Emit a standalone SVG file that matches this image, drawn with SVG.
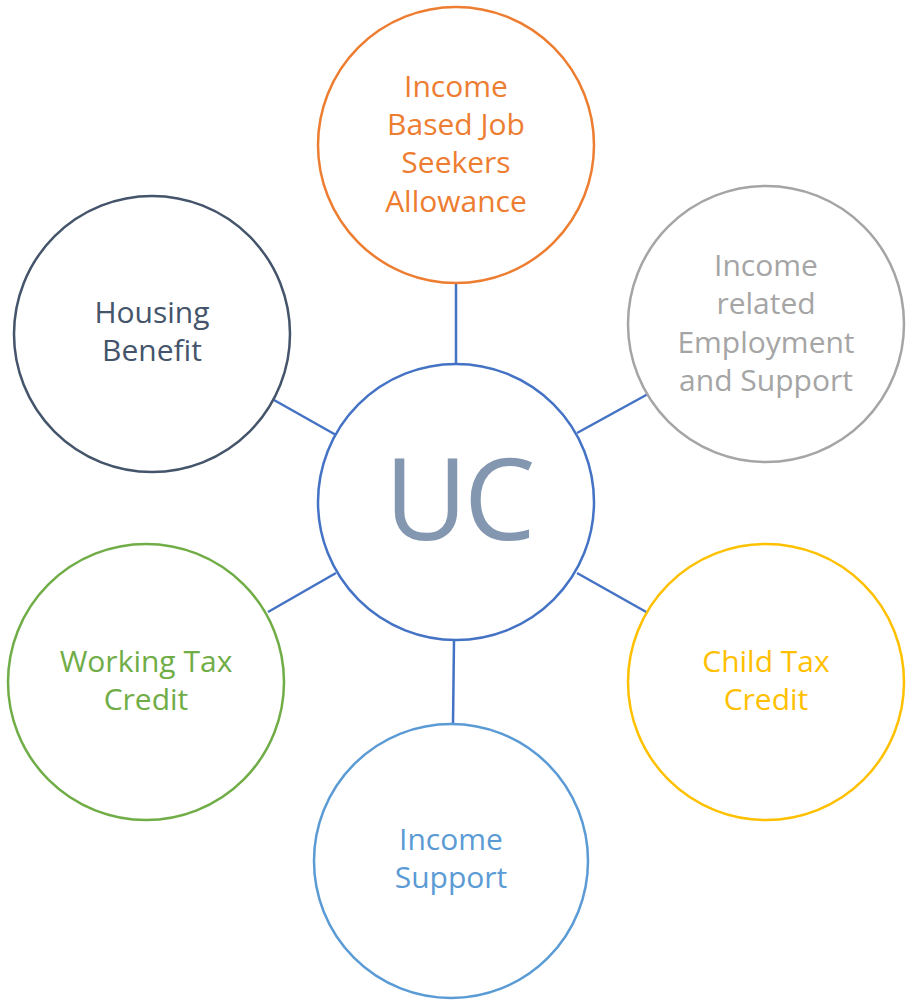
<svg xmlns="http://www.w3.org/2000/svg" width="911" height="1001" viewBox="0 0 911 1001">
<style>
.c{fill:#fff;stroke-width:2.5}
.t{font-family:"Open Sans","Liberation Sans",sans-serif;font-size:30px;text-anchor:middle}
.conn line{stroke:#4472C4;stroke-width:2.5}
</style>
<rect width="911" height="1001" fill="#fff"/>
<g id="connectors" class="conn">
<line x1="456" y1="283" x2="456" y2="365"/>
<line x1="577" y1="433" x2="648" y2="394"/>
<line x1="274" y1="400" x2="336" y2="435"/>
<line x1="577" y1="573" x2="648" y2="613"/>
<line x1="268" y1="612" x2="336" y2="573"/>
<line x1="454" y1="640" x2="453" y2="724"/>
</g>
<g id="uc">
<circle class="c" cx="456" cy="502" r="138" stroke="#4472C4"/>
<text x="458" y="540" font-family="'Open Sans','Liberation Sans',sans-serif" font-size="114" text-anchor="middle" fill="#8497B0" letter-spacing="-4">UC</text>
</g>
<g id="jsa">
<circle class="c" cx="456" cy="145" r="138" stroke="#ED7D31"/>
<text class="t" fill="#ED7D31"><tspan x="456" y="97">Income</tspan><tspan x="456" y="135">Based Job</tspan><tspan x="456" y="173">Seekers</tspan><tspan x="456" y="212">Allowance</tspan></text>
</g>
<g id="esa">
<circle class="c" cx="766" cy="324" r="138" stroke="#A5A5A5"/>
<text class="t" fill="#A5A5A5"><tspan x="766" y="276">Income</tspan><tspan x="766" y="314">related</tspan><tspan x="766" y="353">Employment</tspan><tspan x="766" y="391">and Support</tspan></text>
</g>
<g id="housing">
<circle class="c" cx="152" cy="334" r="138" stroke="#44546A"/>
<text class="t" fill="#44546A"><tspan x="152" y="323">Housing</tspan><tspan x="152" y="361">Benefit</tspan></text>
</g>
<g id="ctc">
<circle class="c" cx="766" cy="682" r="138" stroke="#FFC000"/>
<text class="t" fill="#FFC000"><tspan x="766" y="672">Child Tax</tspan><tspan x="766" y="710">Credit</tspan></text>
</g>
<g id="wtc">
<circle class="c" cx="146" cy="682" r="138" stroke="#70AD47"/>
<text class="t" fill="#70AD47"><tspan x="146" y="672">Working Tax</tspan><tspan x="146" y="710">Credit</tspan></text>
</g>
<g id="is">
<circle class="c" cx="451" cy="861" r="137" stroke="#5B9BD5"/>
<text class="t" fill="#5B9BD5"><tspan x="451" y="850">Income</tspan><tspan x="451" y="888">Support</tspan></text>
</g>
</svg>
